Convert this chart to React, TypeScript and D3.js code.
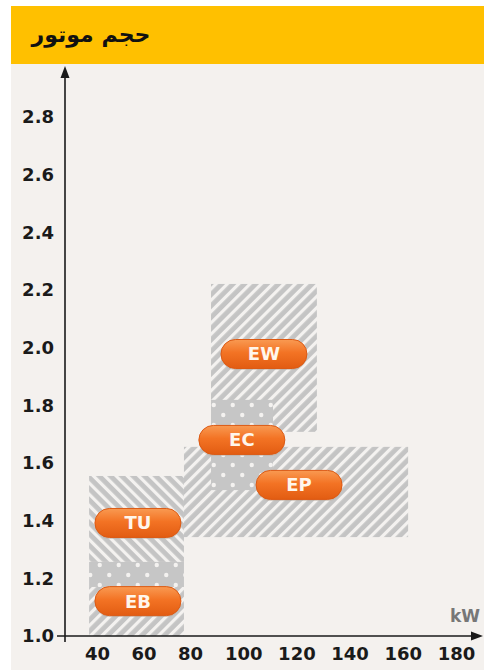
import React, { useEffect, useRef } from 'react';
import * as d3 from 'd3';

// axis ticks
const xTicks = [40, 60, 80, 100, 120, 140, 160, 180];
const yTicks = [1.0, 1.2, 1.4, 1.6, 1.8, 2.0, 2.2, 2.4, 2.6, 2.8];

// shaded ranges (kW from/to, size from/to) and their fill pattern
const regionX0 = [36.6, 36.6, 36.6, 77.4, 87.9, 87.9];
const regionX1 = [77.4, 77.4, 77.4, 162.0, 127.7, 111.2];
const regionY0 = [1.257, 1.17, 1.0, 1.343, 1.708, 1.506];
const regionY1 = [1.555, 1.257, 1.17, 1.656, 2.221, 1.819];
const regionFill = ['back', 'dots', 'fwd', 'fwd', 'fwd', 'dots'];

// engine family labels
const families = ['EW', 'EC', 'EP', 'TU', 'EB'];
const familyKw = [107.8, 99.5, 121.0, 57.6, 57.6];
const familySize = [1.978, 1.68, 1.524, 1.392, 1.121];

const title = 'حجم موتور';

export default function App() {
  const ref = useRef<SVGSVGElement>(null);

  useEffect(() => {
    const svg = d3.select(ref.current);
    svg.selectAll('*').remove();

    // the original axis is stretched a little past 80 kW
    const x = d3.scaleLinear().domain([40, 80, 180]).range([97, 190, 456]);
    const y = d3.scaleLinear().domain([1.0, 2.8]).range([636, 117]);

    const defs = svg.append('defs');

    // diagonal stripes
    const stripes = (id: string, angle: number) => {
      const p = defs.append('pattern')
        .attr('id', id)
        .attr('patternUnits', 'userSpaceOnUse')
        .attr('width', 8)
        .attr('height', 8)
        .attr('patternTransform', 'rotate(' + angle + ')');
      p.append('rect').attr('width', 8).attr('height', 8).attr('fill', '#c4c4c4');
      p.append('rect').attr('x', 0).attr('width', 3.2).attr('height', 8).attr('fill', '#f4f2f0');
    };
    stripes('fwd', 45);
    stripes('back', -45);

    const dots = defs.append('pattern')
      .attr('id', 'dots')
      .attr('patternUnits', 'userSpaceOnUse')
      .attr('width', 19)
      .attr('height', 20);
    dots.append('rect').attr('width', 19).attr('height', 20).attr('fill', '#c6c6c6');
    dots.append('circle').attr('cx', 4.75).attr('cy', 5).attr('r', 2.2).attr('fill', '#f4f2f0');
    dots.append('circle').attr('cx', 14.25).attr('cy', 15).attr('r', 2.2).attr('fill', '#f4f2f0');

    const grad = defs.append('linearGradient')
      .attr('id', 'pill')
      .attr('x1', 0).attr('y1', 0).attr('x2', 0).attr('y2', 1);
    grad.append('stop').attr('offset', '0%').attr('stop-color', '#f99a52');
    grad.append('stop').attr('offset', '45%').attr('stop-color', '#f37324');
    grad.append('stop').attr('offset', '100%').attr('stop-color', '#e25c12');

    // page and header
    svg.append('rect').attr('x', 11).attr('y', 64).attr('width', 473).attr('height', 606).attr('fill', '#f4f1ee');
    svg.append('rect').attr('x', 11).attr('y', 6).attr('width', 473).attr('height', 58).attr('fill', '#ffc000');
    svg.append('text')
      .attr('x', 91).attr('y', 42)
      .attr('text-anchor', 'middle')
      .style('font-family', '"DejaVu Sans", sans-serif')
      .style('font-weight', 'bold')
      .style('font-size', '22px')
      .attr('fill', '#111')
      .text(title);

    // shaded ranges
    svg.selectAll('.region')
      .data(regionX0.map((v, i) => i))
      .enter().append('rect')
      .attr('class', 'region')
      .attr('x', i => x(regionX0[i]))
      .attr('y', i => y(regionY1[i]))
      .attr('width', i => x(regionX1[i]) - x(regionX0[i]))
      .attr('height', i => y(regionY0[i]) - y(regionY1[i]))
      .attr('fill', i => 'url(#' + regionFill[i] + ')');

    // axes
    const font = '"DejaVu Sans", Verdana, sans-serif';
    const yAxis = svg.append('g')
      .attr('transform', 'translate(65,0)')
      .call(d3.axisLeft(y).tickValues(yTicks).tickSize(0).tickPadding(11).tickFormat(d3.format('.1f')));
    yAxis.select('.domain').remove();
    yAxis.selectAll('text')
      .style('font-family', font).style('font-weight', 'bold').style('font-size', '18px').attr('fill', '#1a1a1a');

    const xAxis = svg.append('g')
      .attr('transform', 'translate(0,636)')
      .call(d3.axisBottom(x).tickValues(xTicks).tickSize(0).tickPadding(11));
    xAxis.select('.domain').remove();
    xAxis.selectAll('text')
      .style('font-family', font).style('font-weight', 'bold').style('font-size', '18px').attr('fill', '#1a1a1a');

    svg.append('line').attr('x1', 57).attr('x2', 474).attr('y1', 636).attr('y2', 636)
      .attr('stroke', '#1a1a1a').attr('stroke-width', 1.6);
    svg.append('path').attr('d', 'M483,636 L471,631.5 L471,640.5 Z').attr('fill', '#1a1a1a');
    svg.append('line').attr('x1', 65).attr('x2', 65).attr('y1', 642).attr('y2', 76)
      .attr('stroke', '#1a1a1a').attr('stroke-width', 1.6);
    svg.append('path').attr('d', 'M65,66 L60.5,78 L69.5,78 Z').attr('fill', '#1a1a1a');

    svg.append('text')
      .attr('x', 480).attr('y', 622)
      .attr('text-anchor', 'end')
      .style('font-family', font).style('font-weight', 'bold').style('font-size', '17px')
      .attr('fill', '#777')
      .text('kW');

    // family pills
    const pw = 86, ph = 29;
    const pill = svg.selectAll('.fam')
      .data(families.map((f, i) => i))
      .enter().append('g')
      .attr('class', 'fam')
      .attr('transform', i => 'translate(' + x(familyKw[i]) + ',' + y(familySize[i]) + ')');
    pill.append('rect')
      .attr('x', -pw / 2).attr('y', -ph / 2 + 1.5)
      .attr('width', pw).attr('height', ph)
      .attr('rx', ph / 2)
      .attr('fill', '#b9a89a').attr('opacity', 0.5);
    pill.append('rect')
      .attr('x', -pw / 2).attr('y', -ph / 2)
      .attr('width', pw).attr('height', ph)
      .attr('rx', ph / 2)
      .attr('fill', 'url(#pill)')
      .attr('stroke', '#dc5a14').attr('stroke-width', 1);
    pill.append('text')
      .attr('text-anchor', 'middle')
      .attr('dy', '0.36em')
      .style('font-family', font).style('font-weight', 'bold').style('font-size', '18px')
      .attr('fill', '#fff6ec')
      .text(i => families[i]);
  }, []);

  return (
    <svg ref={ref} width={484} height={670} style={{ position: 'absolute', left: 0, top: 0 }} />
  );
}
